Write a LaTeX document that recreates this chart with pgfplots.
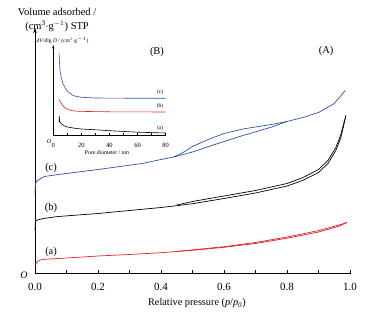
\documentclass[border=0pt]{standalone}
\usepackage{fontspec}
\setmainfont{Liberation Serif}
\usepackage{pgfplots}
\pgfplotsset{compat=1.18}
\usetikzlibrary{arrows.meta}
\definecolor{cblue}{RGB}{48,82,165}
\definecolor{cred}{RGB}{228,30,36}
\begin{document}
\begin{tikzpicture}
\path[use as bounding box] (-35bp,-40.5bp) rectangle (337bp,273.5bp);
\begin{axis}[
  at={(0,0)}, anchor=south west,
  scale only axis, width=315bp, height=245.5bp,
  xmin=0, xmax=1, ymin=0, ymax=245.5,
  axis lines=left,
  x axis line style={-},
  y axis line style={-{Stealth[length=5bp,width=3.5bp]}},
  axis line style={line width=0.6pt},
  xtick={0,0.2,0.4,0.6,0.8,1},
  minor xtick={0.1,0.3,0.5,0.7,0.9},
  ytick=\empty,
  tick align=inside,
  major tick length=3bp, minor tick length=3bp,
  tick style={line width=0.6pt, black},
  xticklabel style={/pgf/number format/.cd, fixed, fixed zerofill, precision=1},
  /pgf/number format/assume math mode=true,
  ticklabel style={font=\fontsize{11}{13}\selectfont, anchor=center, yshift=-13.4bp},
  xlabel={Relative pressure (\textit{p}/\textit{p}\textsubscript{\textit{0}})},
  xlabel style={font=\fontsize{10.3}{12}\selectfont, at={(axis description cs:0.514,0)}, anchor=center, yshift=-29.7bp},
  clip=false,
]
% (a) red
\addplot[cred, line width=0.7pt] coordinates {
(0,8.5) (0.003,10) (0.01,12.5) (0.016,13.5) (0.03,14.2) (0.074,15) (0.2,17.5) (0.3,19) (0.4,20.8) (0.5,23.2) (0.6,26.2) (0.7,30) (0.8,35.3) (0.86,39) (0.9,41.5) (0.94,45) (0.97,48) (0.99,51)};
\addplot[cred, line width=0.7pt] coordinates {
(0.45,22) (0.6,26.8) (0.7,31) (0.8,36.5) (0.86,40.3) (0.9,43) (0.94,46.3) (0.97,49) (0.99,51)};
% (b) black
\addplot[black, line width=0.7pt] coordinates {
(0,43.5) (0.001,50) (0.003,52.5) (0.01,53.8) (0.03,55.2) (0.074,57) (0.2,60) (0.3,63) (0.4,66) (0.45,67.8) (0.5,69.8) (0.6,75) (0.7,80.5) (0.8,87.5) (0.85,93) (0.9,101) (0.93,110) (0.955,123) (0.97,135) (0.98,148) (0.987,158)};
\addplot[black, line width=0.7pt] coordinates {
(0.45,68.5) (0.5,72) (0.6,77.5) (0.7,83) (0.8,90) (0.85,95.8) (0.9,104) (0.93,113) (0.955,126) (0.97,138) (0.98,150) (0.987,158)};
% (c) blue
\addplot[cblue, line width=0.7pt] coordinates {
(0,80) (0.001,88) (0.003,91) (0.01,93.5) (0.03,97) (0.074,99) (0.2,104) (0.34,110) (0.4,114) (0.44,116.5) (0.5,121.5) (0.6,132) (0.66,138) (0.75,146.3) (0.8,152) (0.85,156) (0.9,161) (0.95,170) (0.985,183)};
\addplot[cblue, line width=0.7pt] coordinates {
(0.44,116.5) (0.47,121) (0.5,127) (0.55,134) (0.6,140) (0.66,144.5) (0.75,149) (0.8,152)};
\node[font=\fontsize{10.5}{13}\selectfont] at (axis cs:0.051,21.5) {(a)};
\node[font=\fontsize{10.5}{13}\selectfont] at (axis cs:0.051,65.5) {(b)};
\node[font=\fontsize{10.5}{13}\selectfont] at (axis cs:0.051,105.5) {(c)};
\node[font=\fontsize{10.5}{13}\selectfont] at (axis cs:0.924,222.5) {(A)};
\node[font=\fontsize{10}{12}\selectfont\itshape, inner sep=0pt, xshift=-11bp, yshift=-1.5bp] at (axis cs:0,0) {O};
\node[font=\fontsize{10.5}{14}\selectfont, align=center] at (axis cs:0.07,253.5) {Volume adsorbed /\\(cm\textsuperscript{3}$\cdot$g\textsuperscript{$-1$}) STP};
\end{axis}
\begin{axis}[
  at={(18.3bp,138.5bp)}, anchor=south west,
  scale only axis, width=112.4bp, height=90bp,
  xmin=0, xmax=80, ymin=0, ymax=90,
  axis lines=left,
  x axis line style={-},
  y axis line style={-{Stealth[length=3.5bp,width=2.5bp]}},
  axis line style={line width=0.5pt},
  xtick={0,20,40,60,80},
  minor xtick={10,30,50,70},
  ytick=\empty,
  tick align=inside,
  major tick length=2bp, minor tick length=2bp,
  tick style={line width=0.5pt, black},
  /pgf/number format/assume math mode=true,
  ticklabel style={font=\fontsize{6.5}{7}\selectfont, anchor=center, yshift=-10.5bp},
  xlabel={Pore diameter / nm},
  xlabel style={font=\fontsize{5.8}{7}\selectfont, at={(axis description cs:0.478,0)}, anchor=center, yshift=-17.5bp},
  clip=false,
]
\addplot[cblue, line width=0.6pt] coordinates {
(4.1,82) (4.5,70) (5,62) (5.7,57) (7,51) (9.3,45) (11,42.5) (13.5,40) (16,38.7) (20,37.7) (30,37) (50,36.8) (80,36.7)};
\addplot[cred, line width=0.6pt] coordinates {
(4.1,35.7) (5,33) (6.9,29) (9,26.5) (11.2,25) (15,24) (20,23.6) (40,23.2) (80,23)};
\addplot[black, line width=0.6pt] coordinates {
(4.1,12.5) (4.2,19) (4.5,14) (5,12.5) (6,11) (8,9) (10,8) (15,6.8) (20,6) (30,5.2) (40,4.3) (60,2.8) (80,2)};
\node[font=\fontsize{5.5}{6}\selectfont] at (axis cs:76,42.7) {(c)};
\node[font=\fontsize{5.5}{6}\selectfont] at (axis cs:76,29.3) {(b)};
\node[font=\fontsize{5.5}{6}\selectfont] at (axis cs:76,7) {(a)};
\node[font=\fontsize{10.5}{13}\selectfont] at (axis cs:73.8,83) {(B)};
\node[font=\fontsize{6}{7}\selectfont\itshape, inner sep=0pt, xshift=-4.3bp, yshift=-6.5bp] at (axis cs:0,0) {O};
\node[font=\fontsize{5.5}{6}\selectfont] at (axis cs:6.5,95) {\textit{dV}/dlg \textit{D} / (cm\textsuperscript{3}$\cdot$g\textsuperscript{$-1$})};
\end{axis}
\end{tikzpicture}
\end{document}
